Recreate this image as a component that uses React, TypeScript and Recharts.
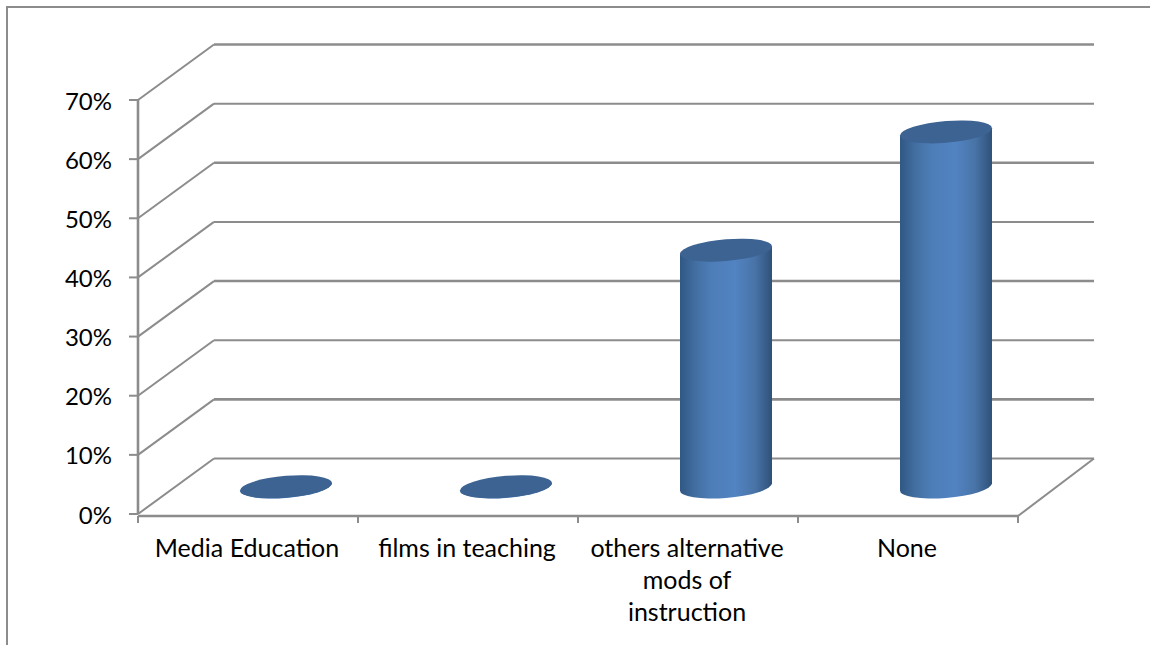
import React from "react";
import { ComposedChart, Bar, XAxis, YAxis, CartesianGrid } from "recharts";

const categories = ["Media Education", "films in teaching", "others alternative mods of instruction", "None"];
const categoryLines = [["Media Education"], ["films in teaching"], ["others alternative", "mods of", "instruction"], ["None"]];
const values = [0, 0, 0.4, 0.6];
const yTicks = [0, 0.1, 0.2, 0.3, 0.4, 0.5, 0.6, 0.7];
const edgeTicks = [0, 1, 2, 3, 4];

const data = categories.map((name, i) => ({ name, value: values[i], edge: edgeTicks[i] }));

const GREY = "#8c8c8c";
const FONT = "Lato, 'Open Sans', sans-serif";
const DX = 76;
const DY = -55.5;
const SLOPE = -0.08;
const RY = 10.9;

function GridLine(props: any) {
  const { x1, x2, y1, y2, index } = props;
  const w = index % 2 === 1 ? 2.6 : 2;
  return (
    <g>
      <line x1={x1 + DX} x2={x2 + DX} y1={y1 + DY} y2={y2 + DY} stroke={GREY} strokeWidth={w} />
      <line x1={x1} x2={x1 + DX} y1={y1} y2={y1 + DY} stroke={GREY} strokeWidth={2} />
      {y1 > 500 ? (
        <line x1={x2} x2={x2 + DX} y1={y1 + 2} y2={y1 + DY} stroke={GREY} strokeWidth={2} />
      ) : null}
    </g>
  );
}

function Cylinder(props: any) {
  const { x, y, width, height } = props;
  const rx = width / 2;
  const cx = x + rx + DX / 2;
  const top = y + DY / 2 + 0.5;
  const bot = y + height + DY / 2 + 0.8;
  return (
    <g transform={`matrix(1,${SLOPE},0,1,${cx},0)`}>
      <path
        d={`M ${-rx} ${top} L ${-rx} ${bot} A ${rx} ${RY} 0 0 0 ${rx} ${bot} L ${rx} ${top} Z`}
        fill="url(#cylinderBody)"
      />
      <ellipse cx={0} cy={top} rx={rx} ry={RY} fill="#3c6392" />
    </g>
  );
}

function CategoryTick(props: any) {
  const { x, y, index } = props;
  const lines = categoryLines[index] || [];
  return (
    <text x={x - 1} y={y + 35} textAnchor="middle" fontFamily={FONT} fontSize={25} fill="#000">
      {lines.map((l: string, i: number) => (
        <tspan key={l} x={x - 1} dy={i === 0 ? 0 : 32}>
          {l}
        </tspan>
      ))}
    </text>
  );
}

function EmptyTick() {
  return <g />;
}

function ValueTick(props: any) {
  const { x, y, payload } = props;
  return (
    <text x={x} y={y + 9.5} textAnchor="end" fontFamily={FONT} fontSize={24} fill="#000">
      {`${Math.round(payload.value * 100)}%`}
    </text>
  );
}

export default function App() {
  return (
    <div style={{ position: "absolute", left: 0, top: 0, width: 1150, height: 645, background: "#fff", overflow: "hidden" }}>
      <div
        style={{
          position: "absolute",
          left: 6,
          top: 6,
          width: 1144,
          height: 639,
          borderLeft: `2px solid ${GREY}`,
          borderTop: `2px solid ${GREY}`,
        }}
      />
      <div style={{ position: "absolute", left: 0, top: 0 }}>
        <ComposedChart
          width={1150}
          height={645}
          data={data}
          margin={{ top: 100, right: 132, bottom: 89, left: 0 }}
          barCategoryGap={0}
        >
          <defs>
            <linearGradient id="cylinderBody" x1="0" y1="0" x2="1" y2="0">
              <stop offset="0" stopColor="#315884" />
              <stop offset="0.2" stopColor="#4572a6" />
              <stop offset="0.35" stopColor="#4d7eb8" />
              <stop offset="0.6" stopColor="#5283c2" />
              <stop offset="0.82" stopColor="#4873a6" />
              <stop offset="1" stopColor="#2f5179" />
            </linearGradient>
          </defs>
          <CartesianGrid xAxisId="cat" vertical={false} horizontal={GridLine as any} />
          <XAxis xAxisId="cat" dataKey="name" height={2} axisLine={false} tickLine={false} interval={0} tick={CategoryTick as any} />
          <XAxis
            xAxisId="edges"
            dataKey="edge"
            type="number"
            domain={[0, 4]}
            allowDataOverflow
            ticks={edgeTicks}
            interval={0}
            height={40}
            tick={EmptyTick as any}
            tickSize={7}
            axisLine={{ stroke: GREY, strokeWidth: 2.6 }}
            tickLine={{ stroke: GREY, strokeWidth: 2 }}
          />
          <YAxis
            domain={[0, 0.7]}
            ticks={yTicks}
            width={138}
            interval={0}
            tickSize={9}
            tickMargin={17}
            axisLine={{ stroke: GREY, strokeWidth: 2.6 }}
            tickLine={{ stroke: GREY, strokeWidth: 2 }}
            tick={ValueTick as any}
          />
          <Bar xAxisId="cat" dataKey="value" barSize={92} isAnimationActive={false} shape={Cylinder as any} />
        </ComposedChart>
      </div>
    </div>
  );
}
